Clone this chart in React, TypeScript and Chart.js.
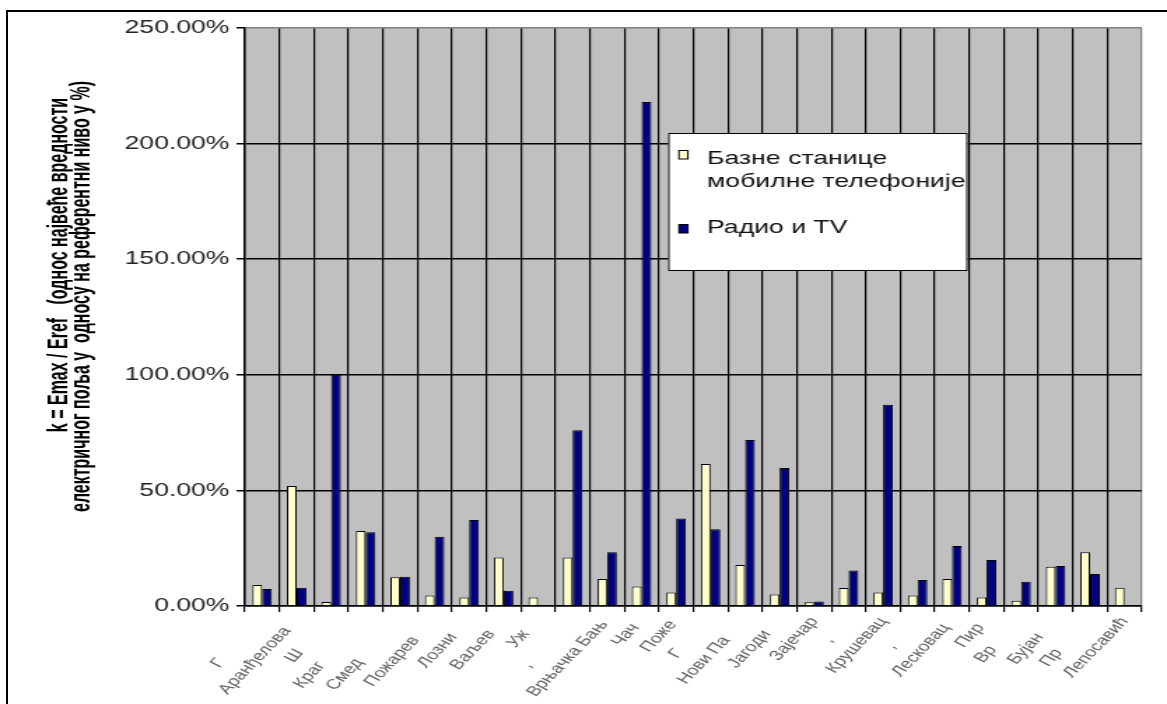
import React, { useEffect, useRef } from 'react';
import { Chart, registerables } from 'chart.js';

Chart.register(...registerables);

// ---- data ----
const categories = [
  'Г', 'Аранђелова', 'Ш', 'Краг', 'Смед', 'Пожарев', 'Лозни', 'Ваљев', 'Уж', ',',
  'Врњачка Бањ', 'Чач', 'Поже', 'Г', 'Нови Па', 'Јагоди', 'Зајечар', ',', 'Крушевац', ',',
  'Лесковац', 'Пир', 'Вр', 'Бујан', 'Пр', 'Лепосавић',
];
const baseStations = [
  9.1, 51.9, 1.7, 32.4, 12.4, 4.5, 3.7, 21, 3.7, 21,
  11.7, 8.4, 5.8, 61.4, 17.7, 5, 1.6, 7.8, 5.8, 4.5,
  11.7, 3.7, 2.3, 17, 23.2, 7.9,
];
const radioTv = [
  7.4, 7.9, 100, 31.9, 12.7, 30, 37.2, 6.6, null, 76,
  23.2, 218, 37.9, 33.2, 71.8, 59.7, 1.9, 15.4, 87, 11.2,
  26, 19.9, 10.5, 17.3, 13.8, null,
];
const seriesNames = ['Базне станице мобилне телефоније', 'Радио и TV'];
const legendLines = [['Базне станице', 'мобилне телефоније'], ['Радио и TV']];
const yTickValues = [0, 50, 100, 150, 200, 250];
const yTitleLines = [
  'k = Emax / Eref   (однос највеће вредности',
  'електричног поља у  односу на референтни ниво у %)',
];

// ---- layout (not data) ----
const labelPad = [13, 3, 10, 14, 13, 6, 5, 4, 4, 14, 1, 2, 1, 10, 6, 4, 0, 6, 0, 8, 2, 2, 9, 5, 10, 0];
const W = 834;
const H = 704;
const STRETCH = 1167 / W;
const FONT = '"Liberation Sans", Arial, sans-serif';
const PALE = '#FFFFCC';
const NAVY = '#000080';

const plotBg = {
  id: 'plotBg',
  beforeDraw(chart: any) {
    const { ctx, chartArea: a } = chart;
    ctx.save();
    ctx.fillStyle = '#C0C0C0';
    ctx.fillRect(a.left, a.top, a.right - a.left, a.bottom - a.top);
    ctx.restore();
  },
};

const yTitle = {
  id: 'yTitle',
  afterDraw(chart: any) {
    const ctx = chart.ctx;
    const pos = [[42.1, 265], [58.6, 296.5]];
    ctx.save();
    ctx.font = `bold 16px ${FONT}`;
    ctx.fillStyle = '#000';
    ctx.textAlign = 'center';
    ctx.textBaseline = 'middle';
    yTitleLines.forEach((t, i) => {
      ctx.save();
      ctx.translate(pos[i][0], pos[i][1]);
      ctx.rotate(-Math.PI / 2);
      ctx.scale(1, 1.25);
      ctx.fillText(t, 0, 0);
      ctx.restore();
    });
    ctx.restore();
  },
};

const legendBox = {
  id: 'legendBox',
  afterDraw(chart: any) {
    const ctx = chart.ctx;
    const box = { x: 477.5, y: 133, w: 214, h: 138 };
    ctx.save();
    ctx.fillStyle = '#fff';
    ctx.fillRect(box.x, box.y, box.w, box.h);
    ctx.strokeStyle = '#000';
    ctx.lineWidth = 1;
    ctx.strokeRect(box.x + 0.5, box.y + 0.5, box.w - 1, box.h - 1);
    const rows = [
      { markerY: 150, baseY: 164 },
      { markerY: 224, baseY: 233 },
    ];
    ctx.font = `19px ${FONT}`;
    ctx.textBaseline = 'alphabetic';
    ctx.textAlign = 'left';
    chart.data.datasets.forEach((ds: any, i: number) => {
      const r = rows[i];
      ctx.fillStyle = ds.backgroundColor;
      ctx.fillRect(485.2, r.markerY, 6.4, 9);
      ctx.strokeStyle = '#000';
      ctx.strokeRect(485.2, r.markerY + 0.5, 6.4, 8.5);
      ctx.fillStyle = '#111';
      legendLines[i].forEach((line, j) => {
        ctx.fillText(line, 505.3, r.baseY + j * 23);
      });
    });
    ctx.restore();
  },
};

export default function App() {
  const ref = useRef<HTMLCanvasElement | null>(null);
  useEffect(() => {
    if (!ref.current) return;
    const chart = new Chart(ref.current, {
      type: 'bar',
      data: {
        labels: categories,
        datasets: [
          { label: seriesNames[0], data: baseStations, backgroundColor: PALE, borderColor: '#000', borderWidth: 1 },
          { label: seriesNames[1], data: radioTv as any, backgroundColor: NAVY, borderColor: '#000', borderWidth: 1 },
        ],
      },
      options: {
        responsive: false,
        animation: false,
        devicePixelRatio: 1,
        layout: { padding: { left: 0, top: 28, right: 18, bottom: 0 } },
        datasets: { bar: { categoryPercentage: 0.565, barPercentage: 1 } },
        plugins: { legend: { display: false }, tooltip: { enabled: false } },
        scales: {
          x: {
            offset: true,
            grid: {
              offset: true,
              color: (c: any) => (c.type === 'scale' ? '#808080' : '#000'),
              lineWidth: 1.2,
              tickLength: 6,
              tickColor: '#000',
            },
            border: { color: '#000', width: 1.5 },
            ticks: {
              autoSkip: false,
              minRotation: 54.5,
              maxRotation: 54.5,
              padding: 2,
              color: '#606060',
              font: { family: FONT, size: 14 },
              callback: (_v: any, i: number) => categories[i] + ' '.repeat(labelPad[i]),
            },
            afterFit: (s: any) => { s.height = H - 606; },
          },
          y: {
            min: 0,
            max: 250,
            afterBuildTicks: (s: any) => { s.ticks = yTickValues.map((v) => ({ value: v })); },
            ticks: {
              padding: 5,
              color: '#222',
              font: { family: FONT, size: 19 },
              callback: (v: any) => Number(v).toFixed(2) + '%',
            },
            grid: {
              color: (c: any) => (c.tick && c.tick.value === 250 ? '#808080' : '#000'),
              lineWidth: 1.5,
              tickLength: 6,
              tickColor: '#000',
            },
            border: { color: '#000', width: 1.5 },
            afterFit: (s: any) => { s.width = 175; },
          },
        },
      },
      plugins: [plotBg, yTitle, legendBox],
    });
    return () => chart.destroy();
  }, []);

  return (
    <div style={{ position: 'absolute', left: 0, top: 0, width: 1167, height: 704, overflow: 'hidden', background: '#fff' }}>
      <div style={{ position: 'absolute', left: 0, top: 0, width: W, height: H, transform: `scaleX(${STRETCH})`, transformOrigin: '0 0' }}>
        <canvas ref={ref} width={W} height={H} style={{ display: 'block' }} />
      </div>
      <div style={{ position: 'absolute', left: 6, top: 10, width: 1161, height: 694, borderTop: '2px solid #000', borderLeft: '2px solid #000', boxSizing: 'border-box', pointerEvents: 'none' }} />
    </div>
  );
}
